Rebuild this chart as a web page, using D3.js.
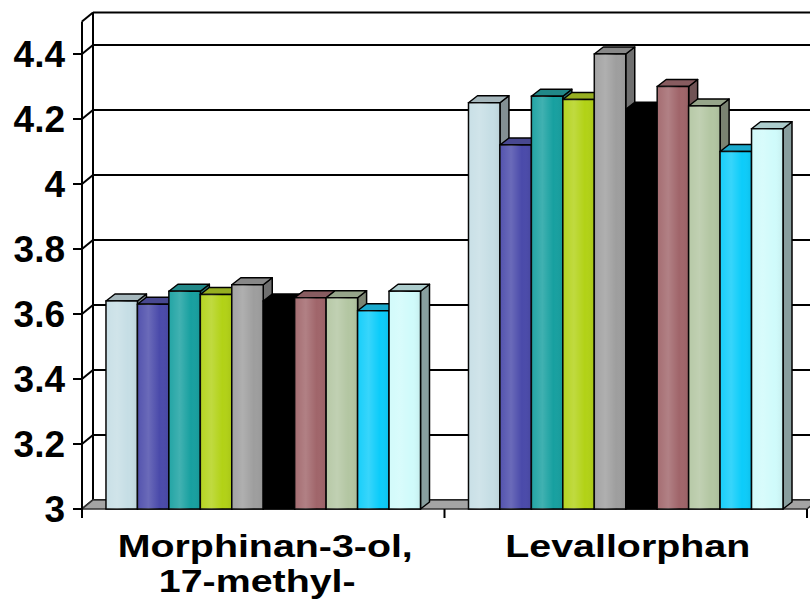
<!DOCTYPE html>
<html lang="en">
<head>
<meta charset="UTF-8">
<title>3D columns</title>
<script src="https://cdn.jsdelivr.net/npm/d3@7"></script>
<style type="text/css">
    body { margin: 0; background: white; }
    text { font-family: "Liberation Sans", Arial, sans-serif; font-weight: bold; fill: black; }
</style>
</head>
<body>
<script>
// chart data
var categories = ["Morphinan-3-ol, 17-methyl-", "Levallorphan"];
var categoryLines = [["Morphinan-3-ol,", "17-methyl-"], ["Levallorphan"]];
var seriesNames = ["S1", "S2", "S3", "S4", "S5", "S6", "S7", "S8", "S9", "S10"];
var valuesMorphinan = [3.64, 3.63, 3.67, 3.66, 3.69, 3.64, 3.65, 3.65, 3.61, 3.67];
var valuesLevallorphan = [4.25, 4.12, 4.27, 4.26, 4.40, 4.23, 4.30, 4.24, 4.10, 4.17];
var seriesColors = ["#c6dee5", "#4a4aaa", "#17a0a0", "#b2d216", "#9e9e9e",
                    "#000000", "#a0656a", "#b3c6a2", "#0cccfa", "#d0fbfb"];
var yTicks = [3, 3.2, 3.4, 3.6, 3.8, 4, 4.2, 4.4];

var width = 810, height = 610;
var DX = 11, DY = -9;      // wall depth
var BDX = 9, BDY = -7;     // column depth

var svg = d3.select("body").append("svg").attr("width", width).attr("height", height);

var y = d3.scaleLinear().domain([3, 4.5]).range([509, 21.5]);
var x0 = d3.scaleBand().domain(categories).range([82, 807]);
var x1 = d3.scaleBand().domain(seriesNames).range([24, x0.bandwidth() - 24]);

var rows = [valuesMorphinan, valuesLevallorphan];

// sheen for column fronts
var grad = svg.append("defs").append("linearGradient").attr("id", "sheen")
    .attr("x1", "0%").attr("x2", "100%").attr("y1", "0%").attr("y2", "0%");
grad.append("stop").attr("offset", "0%").attr("stop-color", "white").attr("stop-opacity", 0.05);
grad.append("stop").attr("offset", "35%").attr("stop-color", "white").attr("stop-opacity", 0.18);
grad.append("stop").attr("offset", "70%").attr("stop-color", "white").attr("stop-opacity", 0);
grad.append("stop").attr("offset", "100%").attr("stop-color", "black").attr("stop-opacity", 0.06);

var left = x0.range()[0], right = x0.range()[1];

// back wall gridlines
svg.selectAll("line.grid").data(yTicks.concat([4.5])).enter().append("line")
    .attr("class", "grid")
    .attr("x1", left + DX).attr("x2", width + 20)
    .attr("y1", function(d){ return y(d) + DY; }).attr("y2", function(d){ return y(d) + DY; })
    .attr("stroke", "black").attr("stroke-width", 2);

// side wall diagonals
svg.selectAll("line.side").data(yTicks.concat([4.5])).enter().append("line")
    .attr("class", "side")
    .attr("x1", left).attr("x2", left + DX)
    .attr("y1", function(d){ return y(d); }).attr("y2", function(d){ return y(d) + DY; })
    .attr("stroke", "black").attr("stroke-width", 2);

svg.append("line").attr("x1", left + DX).attr("x2", left + DX)
    .attr("y1", y(4.5) + DY).attr("y2", y(3) + DY)
    .attr("stroke", "black").attr("stroke-width", 2);

// floor
var floorPts = [[left, y(3)], [right, y(3)], [right + DX, y(3) + DY], [left + DX, y(3) + DY]];
svg.append("polygon").attr("points", floorPts.join(" "))
    .attr("fill", "#a4a4a4").attr("stroke", "#333").attr("stroke-width", 1.5);

// columns
var shade = function(c, k){ return c == "#000000" ? c : d3.interpolateRgb(c, "#404040")(k); };
categories.forEach(function(cat, ci){
    var g = svg.append("g");
    var bars = g.selectAll("g.bar").data(rows[ci]).enter().append("g").attr("class", "bar");
    bars.each(function(v, i){
        var b = d3.select(this);
        var xl = x0(cat) + x1(seriesNames[i]);
        var w = x1.bandwidth();
        var yt = y(v), yb = y(3);
        var col = seriesColors[i];
        b.append("polygon")
            .attr("points", [[xl + w, yt], [xl + w + BDX, yt + BDY], [xl + w + BDX, yb + BDY], [xl + w, yb]].join(" "))
            .attr("fill", shade(col, 0.5)).attr("stroke", "black").attr("stroke-width", 1.5).attr("stroke-linejoin", "round");
        b.append("polygon")
            .attr("points", [[xl, yt], [xl + BDX, yt + BDY], [xl + w + BDX, yt + BDY], [xl + w, yt]].join(" "))
            .attr("fill", shade(col, 0.25)).attr("stroke", "black").attr("stroke-width", 1.5).attr("stroke-linejoin", "round");
        b.append("rect").attr("x", xl).attr("y", yt).attr("width", w).attr("height", yb - yt)
            .attr("fill", col).attr("stroke", "black").attr("stroke-width", 1.5);
        if (col != "#000000") {
            b.append("rect").attr("x", xl).attr("y", yt).attr("width", w).attr("height", yb - yt)
                .attr("fill", "url(#sheen)");
        }
    });
});

// value axis
svg.append("line").attr("x1", left).attr("x2", left).attr("y1", y(4.5)).attr("y2", y(3) + 9)
    .attr("stroke", "black").attr("stroke-width", 2);
svg.selectAll("line.ytick").data(yTicks).enter().append("line")
    .attr("x1", left - 9).attr("x2", left)
    .attr("y1", function(d){ return y(d); }).attr("y2", function(d){ return y(d); })
    .attr("stroke", "black").attr("stroke-width", 2);
svg.selectAll("text.ylab").data(yTicks).enter().append("text")
    .attr("x", left - 17).attr("y", function(d){ return y(d); })
    .attr("dy", "0.36em").attr("text-anchor", "end").style("font-size", "37px")
    .text(function(d){ return d3.format("~g")(d); });

// category axis ticks and labels
svg.selectAll("line.xtick").data([left, x0(categories[1]), right]).enter().append("line")
    .attr("x1", function(d){ return d; }).attr("x2", function(d){ return d; })
    .attr("y1", y(3)).attr("y2", y(3) + 9)
    .attr("stroke", "black").attr("stroke-width", 2);

categories.forEach(function(cat, ci){
    var cx = x0(cat) + x0.bandwidth() / 2;
    categoryLines[ci].forEach(function(line, li){
        svg.append("text")
            .attr("transform", "translate(" + (cx + (li ? -6 : 2)) + "," + (557 + li * 35) + ") scale(1.23,1)")
            .attr("text-anchor", "middle").style("font-size", "32px")
            .text(line);
    });
});
</script>
</body>
</html>
